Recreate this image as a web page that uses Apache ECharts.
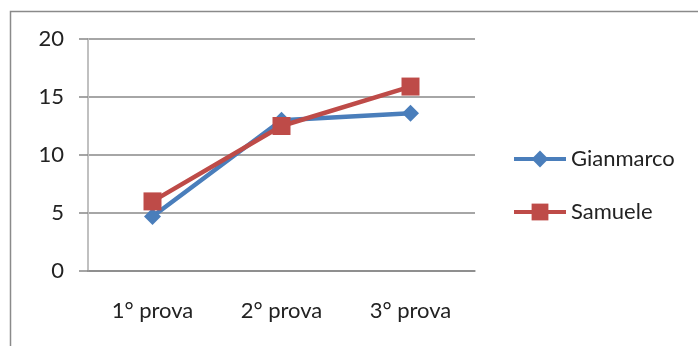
<!DOCTYPE html>
<html>
<head>
<meta charset="utf-8">
<script src="https://cdn.jsdelivr.net/npm/echarts@6/dist/echarts.min.js"></script>
<style>
html,body{margin:0;padding:0;background:#fff;}
#chart{width:698px;height:346px;}
</style>
</head>
<body>
<div id="chart"></div>
<script>
// Scores of each attempt
const categories = ['1° prova', '2° prova', '3° prova'];
const gianmarco = [4.7, 13.0, 13.6];
const samuele = [6.0, 12.5, 15.9];
const yTicks = { min: 0, max: 20, interval: 5 };

const font = "Lato, 'Liberation Sans', sans-serif";
const textColor = '#222222';
const chart = echarts.init(document.getElementById('chart'), null, { renderer: 'canvas' });

chart.setOption({
  backgroundColor: '#ffffff',
  animation: false,
  graphic: [{
    type: 'rect',
    shape: { x: 10.5, y: 11.5, width: 720, height: 360 },
    style: { fill: 'none', stroke: '#8a8a8a', lineWidth: 1.5 }
  }],
  grid: { left: 88, right: 223, top: 39, bottom: 75, containLabel: false },
  legend: {
    orient: 'vertical',
    left: 512,
    top: 148,
    padding: 0,
    itemGap: 31,
    itemWidth: 52,
    itemHeight: 21,
    lineStyle: { width: 4 },
    textStyle: { fontFamily: font, fontSize: 22, color: textColor },
    data: ['Gianmarco', 'Samuele']
  },
  xAxis: {
    type: 'category',
    data: categories,
    boundaryGap: true,
    axisLine: { lineStyle: { color: '#888', width: 1.5 } },
    axisTick: { length: 8, lineStyle: { color: '#888', width: 1.5 } },
    axisLabel: { fontFamily: font, fontSize: 22, color: textColor, margin: 29 },
    splitLine: { show: false }
  },
  yAxis: {
    type: 'value',
    min: yTicks.min, max: yTicks.max, interval: yTicks.interval,
    axisLine: { show: true, lineStyle: { color: '#c0c0c0', width: 2 } },
    axisTick: { show: true, length: 9, lineStyle: { color: '#888', width: 1.5 } },
    axisLabel: { fontFamily: font, fontSize: 22, color: textColor, margin: 24 },
    splitLine: { lineStyle: { color: '#888', width: 1.5 } }
  },
  series: [
    {
      name: 'Gianmarco',
      type: 'line',
      data: gianmarco,
      color: '#4a7ebb',
      lineStyle: { width: 4.5, color: '#4a7ebb' },
      symbol: 'diamond',
      symbolSize: 17,
      itemStyle: { color: '#4a7ebb' },
      z: 2
    },
    {
      name: 'Samuele',
      type: 'line',
      data: samuele,
      color: '#be4b48',
      lineStyle: { width: 4.5, color: '#be4b48' },
      symbol: 'rect',
      symbolSize: 18,
      itemStyle: { color: '#be4b48' },
      z: 3
    }
  ]
});
</script>
</body>
</html>
